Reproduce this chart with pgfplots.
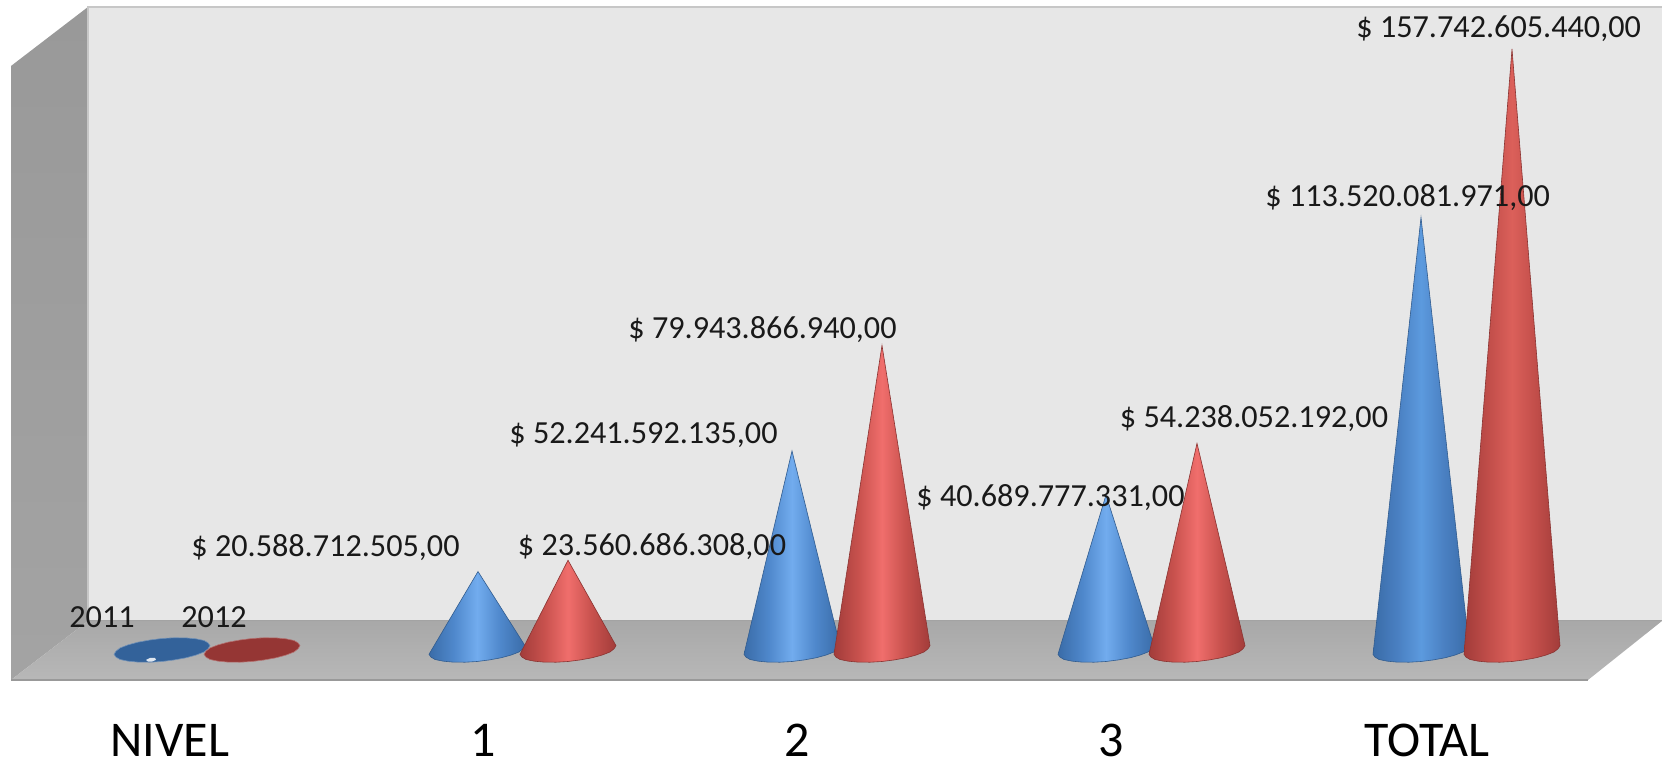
\documentclass[border=0pt]{standalone}
\usepackage{pgfplots}
\pgfplotsset{compat=1.18}
\usepackage{fontspec}
\setmainfont{Carlito}
\definecolor{cb1}{HTML}{3A6CA8}
\definecolor{cb2}{HTML}{4F88CC}
\definecolor{cb3}{HTML}{72ACEE}
\definecolor{cr1}{HTML}{A23C3A}
\definecolor{cr2}{HTML}{C9524E}
\definecolor{cr3}{HTML}{F06E6C}
\definecolor{tb3}{HTML}{5C9ADE}
\definecolor{tb2}{HTML}{4A80C2}
\definecolor{tr3}{HTML}{DB605A}
\definecolor{tr2}{HTML}{C24E4A}
\definecolor{flatb}{HTML}{33629A}
\definecolor{flatr}{HTML}{953634}
\pgfdeclarehorizontalshading{coneblue}{100bp}{color(0bp)=(cb1);color(25bp)=(cb1);color(38bp)=(cb2);color(50bp)=(cb3);color(62bp)=(cb2);color(75bp)=(cb1);color(100bp)=(cb1)}
\pgfdeclarehorizontalshading{conered}{100bp}{color(0bp)=(cr1);color(25bp)=(cr1);color(38bp)=(cr2);color(50bp)=(cr3);color(62bp)=(cr2);color(75bp)=(cr1);color(100bp)=(cr1)}
\pgfdeclarehorizontalshading{conebluet}{100bp}{color(0bp)=(cb1);color(25bp)=(cb1);color(38bp)=(tb2);color(50bp)=(tb3);color(62bp)=(tb2);color(75bp)=(cb1);color(100bp)=(cb1)}
\pgfdeclarehorizontalshading{conredt}{100bp}{color(0bp)=(cr1);color(25bp)=(cr1);color(38bp)=(tr2);color(50bp)=(tr3);color(62bp)=(tr2);color(75bp)=(cr1);color(100bp)=(cr1)}
\tikzset{
  lab/.style={anchor=base west, inner sep=0pt, font=\fontsize{16.1}{16}\selectfont, text=black!90},
  conb/.style={shading=coneblue, draw=cb1!85!black, line width=0.3pt},
  conr/.style={shading=conered, draw=cr1!85!black, line width=0.3pt},
}
\begin{document}
\begin{tikzpicture}
\begin{axis}[
  scale only axis, width=831pt, height=379.5pt,
  xmin=0, xmax=1662, ymin=-28.61, ymax=170.6,
  axis line style={draw=none}, tick style={draw=none}, major tick length=0pt,
  ytick=\empty,
  xtick={170,483,797,1111,1427},
  xticklabels={NIVEL,1,2,3,TOTAL},
  xticklabel style={font=\fontsize{25}{25}\selectfont, anchor=base, yshift=1.2pt, inner sep=0pt},
  no markers,
]
% walls and floor
\addplot[top color=black!40, bottom color=black!36, draw=none] coordinates {(11,153.28) (88,168.77) (88,7.61) (11,-7.87)} -- cycle;
\addplot[fill=black!9.5, draw=none] coordinates {(88,168.77) (1662,168.77) (1662,7.61) (88,7.61)} -- cycle;
\addplot[draw=black!22, line width=0.6pt] coordinates {(88,7.61) (88,168.77) (1662,168.77)};
\addplot[top color=black!34, bottom color=black!28, draw=none] coordinates {(88,7.61) (1662,7.61) (1588,-7.87) (11,-7.87)} -- cycle;
\addplot[draw=black!40, line width=1pt] coordinates {(11,-7.87) (1588,-7.87)};
\addplot[draw=black!36, line width=0.5pt] coordinates {(88,7.61) (1662,7.61)};
% flat ellipses (NIVEL row)
\addplot[fill=flatb, draw=flatb!70!white, line width=0.3pt] coordinates {(210,1.13) (208,.31) (204,-.53) (196,-1.34) (186,-2.05) (174,-2.62) (162,-3.02) (150,-3.21) (138,-3.18) (128,-2.93) (120,-2.49) (116,-1.87) (114,-1.13) (116,-.31) (120,.53) (128,1.34) (138,2.05) (150,2.62) (162,3.02) (174,3.21) (186,3.18) (196,2.93) (204,2.49) (208,1.87)} -- cycle;
\addplot[fill=white!85!flatb, draw=none] coordinates {(146,-2.6) (150,-2.1) (155,-2.1) (156,-2.6) (152,-3.05) (148,-3.05)} -- cycle;
\addplot[fill=flatr, draw=flatr!70!white, line width=0.3pt] coordinates {(300,1.13) (298,.31) (294,-.53) (286,-1.34) (276,-2.05) (264,-2.62) (252,-3.02) (240,-3.21) (228,-3.18) (218,-2.93) (210,-2.49) (206,-1.87) (204,-1.13) (206,-.31) (210,.53) (218,1.34) (228,2.05) (240,2.62) (252,3.02) (264,3.21) (276,3.18) (286,2.93) (294,2.49) (298,1.87)} -- cycle;
% level 1
\addplot[conb] coordinates {(478,20.59) (525,1.13) (523,.31) (519,-.53) (511,-1.34) (501,-2.05) (489,-2.62) (477,-3.02) (465,-3.21) (453,-3.18) (443,-2.93) (435,-2.49) (431,-1.87) (429,-1.13)} -- cycle;
\addplot[conr] coordinates {(568,23.56) (616,1.13) (614,.31) (610,-.53) (602,-1.34) (592,-2.05) (580,-2.62) (568,-3.02) (556,-3.21) (544,-3.18) (534,-2.93) (526,-2.49) (522,-1.87) (520,-1.13)} -- cycle;
% level 2
\addplot[conb] coordinates {(792,52.24) (840,1.13) (838,.31) (834,-.53) (826,-1.34) (816,-2.05) (804,-2.62) (792,-3.02) (780,-3.21) (768,-3.18) (758,-2.93) (750,-2.49) (746,-1.87) (744,-1.13)} -- cycle;
\addplot[conr] coordinates {(882,79.94) (930,1.13) (928,.31) (924,-.53) (916,-1.34) (906,-2.05) (894,-2.62) (882,-3.02) (870,-3.21) (858,-3.18) (848,-2.93) (840,-2.49) (836,-1.87) (834,-1.13)} -- cycle;
% level 3
\addplot[conb] coordinates {(1106,40.69) (1154,1.13) (1152,.31) (1148,-.53) (1140,-1.34) (1130,-2.05) (1118,-2.62) (1106,-3.02) (1094,-3.21) (1082,-3.18) (1072,-2.93) (1064,-2.49) (1060,-1.87) (1058,-1.13)} -- cycle;
\addplot[conr] coordinates {(1197,54.24) (1245,1.13) (1243,.31) (1239,-.53) (1231,-1.34) (1221,-2.05) (1209,-2.62) (1197,-3.02) (1185,-3.21) (1173,-3.18) (1163,-2.93) (1155,-2.49) (1151,-1.87) (1149,-1.13)} -- cycle;
% total
\addplot[shading=conebluet, draw=cb1!85!black, line width=0.3pt] coordinates {(1421,113.52) (1469,1.13) (1467,.31) (1463,-.53) (1455,-1.34) (1445,-2.05) (1433,-2.62) (1421,-3.02) (1409,-3.21) (1397,-3.18) (1387,-2.93) (1379,-2.49) (1375,-1.87) (1373,-1.13)} -- cycle;
\addplot[shading=conredt, draw=cr1!85!black, line width=0.3pt] coordinates {(1512,157.74) (1560,1.13) (1558,.31) (1554,-.53) (1546,-1.34) (1536,-2.05) (1524,-2.62) (1512,-3.02) (1500,-3.21) (1488,-3.18) (1478,-2.93) (1470,-2.49) (1466,-1.87) (1464,-1.13)} -- cycle;
% labels
\node[lab] at (axis cs:1356,160.87) {\$ 157.742.605.440,00};
\node[lab] at (axis cs:1265,116.52) {\$ 113.520.081.971,00};
\node[lab] at (axis cs:628,81.87) {\$ 79.943.866.940,00};
\node[lab] at (axis cs:509,54.32) {\$ 52.241.592.135,00};
\node[lab] at (axis cs:1119.5,58.52) {\$ 54.238.052.192,00};
\node[lab] at (axis cs:916,37.62) {\$ 40.689.777.331,00};
\node[lab] at (axis cs:517.5,24.92) {\$ 23.560.686.308,00};
\node[lab] at (axis cs:191,24.55) {\$ 20.588.712.505,00};
\node[lab] at (axis cs:69,5.9) {2011};
\node[lab] at (axis cs:181,5.9) {2012};
\end{axis}
\end{tikzpicture}
\end{document}
